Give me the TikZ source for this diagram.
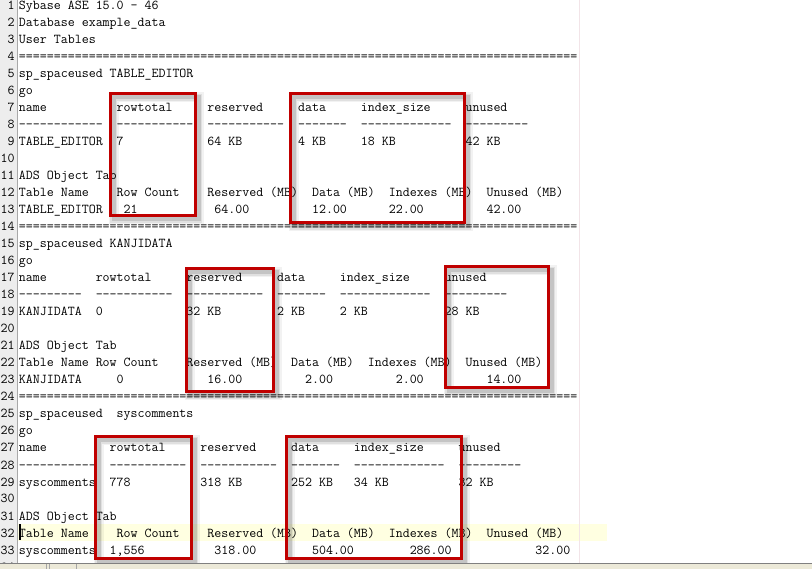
\documentclass[tikz,border=0pt]{standalone}
\usepackage{fontspec}
\newcommand\SP[1]{\hskip#1\fontcharwd\font`x\relax}
\newcommand\Eten{==========}
\newcommand\Eline{\Eten\Eten\Eten\Eten\Eten\Eten\Eten\Eten}
\definecolor{boxred}{HTML}{C00000}
\definecolor{gutterbg}{HTML}{EDEDED}
\definecolor{gutterline}{HTML}{A8A8A8}
\definecolor{curline}{HTML}{FFFFE1}
\definecolor{marginline}{HTML}{F2E4E8}
\definecolor{statusbg}{HTML}{ECE9D8}
\newcommand\TL[2]{\node[txt] (t#1) at (19,{10+17*(#1-1)}) {#2};}
\newcommand\RB[4]{%
  \foreach \w/\o in {10/0.05,7/0.07,4/0.12}
    \draw[line width=\w pt, black, opacity=\o] ({#1+3.5},{#2+3.5}) rectangle ({#3+3.5},{#4+3.5});
  \draw[redbox] (#1,#2) rectangle (#3,#4);}
\begin{document}
\begin{tikzpicture}[x=1pt,y=-1pt,
  txt/.style={anchor=base west,inner sep=0pt,outer sep=0pt,font=\ttfamily\fontsize{13.55pt}{17pt}\selectfont},
  num/.style={anchor=base east,inner sep=0pt,outer sep=0pt,font=\ttfamily\fontsize{13.55pt}{17pt}\selectfont},
  redbox/.style={draw=boxred,line width=3pt}]
\useasboundingbox (0,0) rectangle (812,569);
\fill[white] (0,0) rectangle (812,569);
% gutter
\fill[gutterbg] (0,0) rectangle (17,563);
\draw[gutterline,line width=1pt] (17.5,0) -- (17.5,563);
% current line highlight
\fill[curline] (18,524) rectangle (607,541);
% right margin
\draw[marginline,line width=1pt] (579.5,0) -- (579.5,563);
% line numbers
\foreach \i in {1,...,33} \node[num] (n\i) at (14.5,{10+17*(\i-1)}) {\i};
% text
\TL{1}{Sybase ASE 15.0 - 46}
\TL{2}{Database example\_data}
\TL{3}{User Tables}
\TL{4}{\Eline}
\TL{5}{sp\_spaceused TABLE\_EDITOR}
\TL{6}{go}
\TL{7}{name\SP{10}rowtotal\SP{5}reserved\SP{5}data\SP{5}index\_size\SP{5}unused}
\TL{8}{------------\SP{2}-----------\SP{2}-----------\SP{2}-------\SP{2}-------------\SP{2}---------}
\TL{9}{TABLE\_EDITOR\SP{2}7\SP{12}64 KB\SP{8}4 KB\SP{5}18 KB\SP{10}42 KB}
\TL{11}{ADS Object Tab}
\TL{12}{Table Name\SP{4}Row Count\SP{4}Reserved (MB)\SP{2}Data (MB)\SP{2}Indexes (MB)\SP{2}Unused (MB)}
\TL{13}{TABLE\_EDITOR\SP{3}21\SP{11}64.00\SP{9}12.00\SP{6}22.00\SP{9}42.00}
\TL{14}{\Eline}
\TL{15}{sp\_spaceused KANJIDATA}
\TL{16}{go}
\TL{17}{name\SP{7}rowtotal\SP{5}reserved\SP{5}data\SP{5}index\_size\SP{5}unused}
\TL{18}{---------\SP{2}-----------\SP{2}-----------\SP{2}-------\SP{2}-------------\SP{2}---------}
\TL{19}{KANJIDATA\SP{2}0\SP{12}32 KB\SP{8}2 KB\SP{5}2 KB\SP{11}28 KB}
\TL{21}{ADS Object Tab}
\TL{22}{Table Name\SP{1}Row Count\SP{4}Reserved (MB)\SP{2}Data (MB)\SP{2}Indexes (MB)\SP{2}Unused (MB)}
\TL{23}{KANJIDATA\SP{5}0\SP{12}16.00\SP{9}2.00\SP{9}2.00\SP{9}14.00}
\TL{24}{\Eline}
\TL{25}{sp\_spaceused\SP{2}syscomments}
\TL{26}{go}
\TL{27}{name\SP{9}rowtotal\SP{5}reserved\SP{5}data\SP{5}index\_size\SP{5}unused}
\TL{28}{-----------\SP{2}-----------\SP{2}-----------\SP{2}-------\SP{2}-------------\SP{2}---------}
\TL{29}{syscomments\SP{2}778\SP{10}318 KB\SP{7}252 KB\SP{3}34 KB\SP{10}32 KB}
\TL{31}{ADS Object Tab}
\TL{32}{Table Name\SP{4}Row Count\SP{4}Reserved (MB)\SP{2}Data (MB)\SP{2}Indexes (MB)\SP{2}Unused (MB)}
\TL{33}{syscomments\SP{2}1,556\SP{10}318.00\SP{8}504.00\SP{8}286.00\SP{12}32.00}
% partially visible line 34
\begin{scope}
  \clip (0,0) rectangle (812,563);
  \node[num] (n34) at (14.5,{10+17*33}) {34};
  \node[txt] (t34) at (19,{10+17*33}) {\Eline};
\end{scope}
% caret
\fill[black] (19,524) rectangle (21,540);
% red boxes
\RB{110}{94}{195}{216}
\RB{290}{94}{464}{223}
\RB{186}{269}{273}{392}
\RB{445}{267}{548}{388}
\RB{95}{437}{191}{558}
\RB{286}{437}{461}{558}
% status bar
\fill[statusbg] (0,563) rectangle (812,569);
\draw[gray,line width=1pt] (0,563.5) -- (812,563.5);
\foreach \xx in {46,49,76} \draw[gray!70,line width=1pt] (\xx,564) -- (\xx,569);
\end{tikzpicture}
\end{document}
